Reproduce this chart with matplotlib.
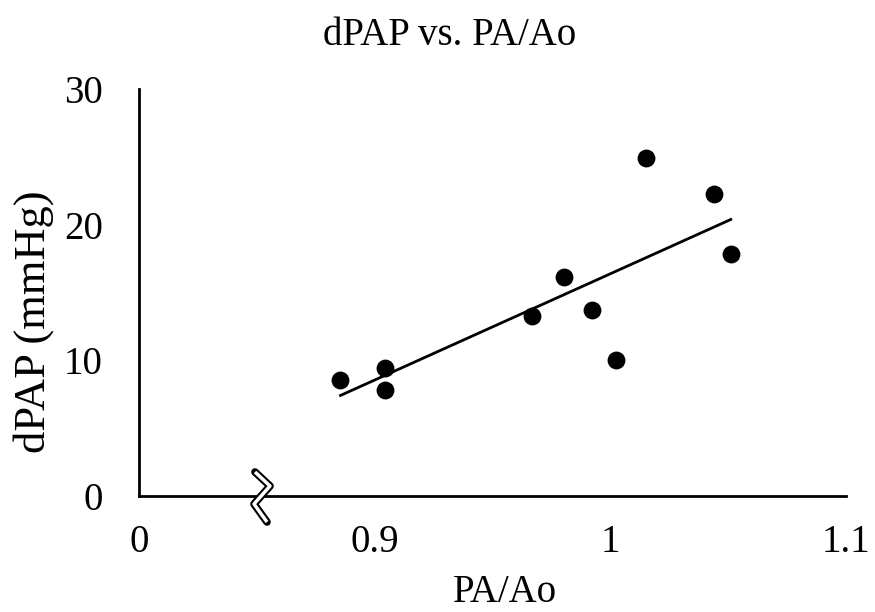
import matplotlib
matplotlib.use("Agg")
import matplotlib.pyplot as plt
import numpy as np

# Data (x axis is broken: the "0" tick sits one interval left of 0.9)
pa_ao = [0.8855, 0.9042, 0.9042, 0.9669, 0.9803, 0.9923, 1.0026, 1.0153, 1.0438, 1.0511]
dpap = [8.55, 9.41, 7.81, 13.27, 16.16, 13.71, 10.02, 24.89, 22.26, 17.84]
x_ticks = [0.8, 0.9, 1.0, 1.1]
x_tick_labels = ["0", "0.9", "1", "1.1"]
y_ticks = [0, 10, 20, 30]
y_tick_labels = ["0", "10", "20", "30"]

plt.rcParams['font.family'] = ['Liberation Serif', 'DejaVu Serif']

fig = plt.figure(figsize=(8.75, 6.12), dpi=100)
L, R, B, T = 139 / 875, 846 / 875, (612 - 496) / 612, (612 - 89) / 612
ax = fig.add_axes([L, B, R - L, T - B])

ax.scatter(pa_ao, dpap, s=165, color='black', zorder=3, linewidths=0)

# linear trendline
xs = np.array(pa_ao)
ys = np.array(dpap)
m, c = np.polyfit(xs, ys, 1)
xl = np.array([xs.min(), xs.max()])
ax.plot(xl, m * xl + c, color='black', lw=2, zorder=2)

ax.set_xlim(0.8, 1.1)
ax.set_ylim(0, 30)
ax.set_xticks(x_ticks)
ax.set_xticklabels(x_tick_labels)
ax.set_yticks(y_ticks)
ax.set_yticklabels(y_tick_labels)
ax.tick_params(axis='both', length=0, labelsize=28)
ax.tick_params(axis='x', pad=20)
ax.tick_params(axis='y', pad=26)

for s in ['top', 'right']:
    ax.spines[s].set_visible(False)
for s in ['left', 'bottom']:
    ax.spines[s].set_linewidth(2)
    ax.spines[s].set_color('black')

# axis break mark
def fx(px):
    return (px - 139) / (846 - 139)
def fy(py):
    return (496 - py) / (496 - 89)
bx = [fx(255), fx(270), fx(254), fx(267)]
by = [fy(472), fy(486), fy(504), fy(522)]
ax.plot(bx, by, transform=ax.transAxes, color='black', lw=5.5, clip_on=False,
        solid_joinstyle='round', solid_capstyle='round', zorder=5)
ax.plot(bx, by, transform=ax.transAxes, color='white', lw=2.5, clip_on=False,
        solid_joinstyle='round', solid_capstyle='butt', zorder=6)

fig.text(450 / 875, (612 - 45) / 612, "dPAP vs. PA/Ao", ha='center', va='baseline', fontsize=28)
fig.text(505 / 875, (612 - 602) / 612, "PA/Ao", ha='center', va='baseline', fontsize=28)
fig.text(34 / 875, (612 - 322) / 612, "dPAP (mmHg)", ha='center', va='center', rotation=90, fontsize=32)

fig.savefig("out.png", dpi=100)
